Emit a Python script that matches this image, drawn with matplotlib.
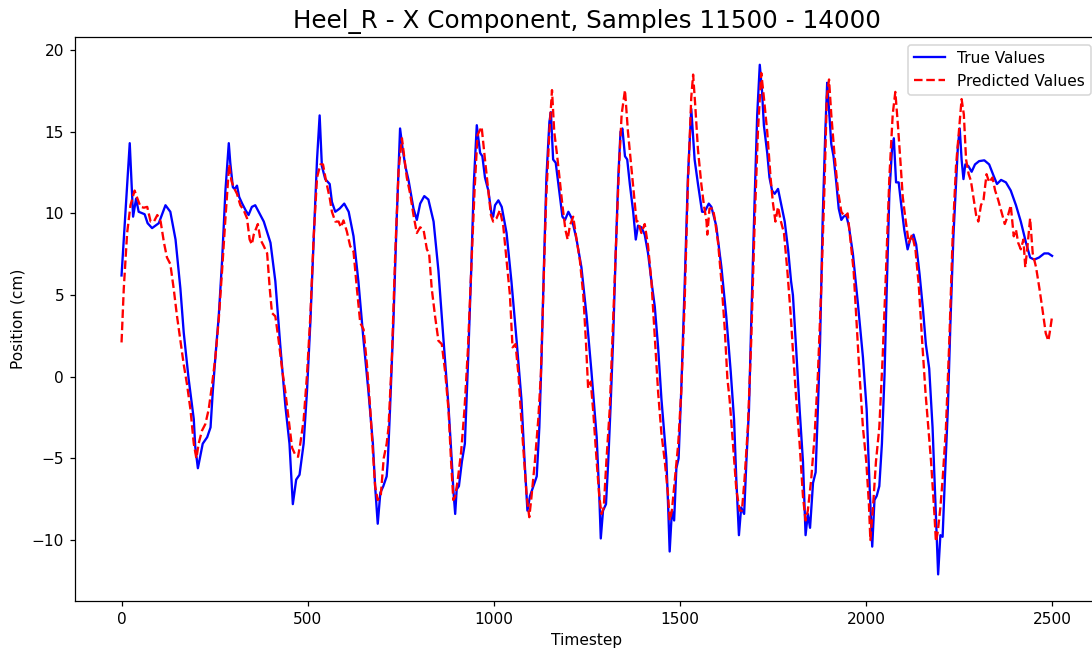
import matplotlib
matplotlib.use("Agg")
import matplotlib.pyplot as plt
import numpy as np

# ---- data (timestep, value) ----
true_t = [0, 22, 31, 39, 46, 62, 70, 82, 100, 118, 131, 145, 158, 167, 180, 194, 198, 205, 218, 230,
          239, 245, 252, 261, 270, 279, 288, 292, 299, 304, 310, 316, 324, 333, 341, 350, 359, 382, 400, 413,
          426, 440, 451, 460, 469, 478, 489, 498, 507, 516, 525, 532, 538, 547, 559, 565, 574, 586, 598, 610,
          623, 636, 650, 663, 675, 681, 688, 695, 703, 712, 715, 721, 730, 739, 748, 754, 762, 771, 784, 793,
          802, 813, 824, 838, 851, 864, 878, 887, 891, 896, 900, 906, 914, 922, 931, 939, 946, 954, 963, 969,
          976, 985, 994, 998, 1003, 1012, 1021, 1034, 1047, 1061, 1074, 1082, 1090, 1097, 1106, 1115, 1122, 1128, 1134, 1141,
          1149, 1153, 1159, 1166, 1173, 1179, 1184, 1191, 1200, 1209, 1222, 1235, 1249, 1262, 1276, 1283, 1287, 1293, 1301, 1307,
          1313, 1320, 1327, 1334, 1340, 1345, 1352, 1358, 1365, 1374, 1381, 1387, 1396, 1405, 1414, 1423, 1432, 1441, 1450, 1463,
          1468, 1472, 1478, 1484, 1490, 1496, 1503, 1512, 1521, 1530, 1539, 1548, 1559, 1566, 1577, 1584, 1597, 1611, 1624, 1636,
          1645, 1651, 1658, 1664, 1672, 1678, 1685, 1691, 1700, 1707, 1714, 1720, 1725, 1734, 1740, 1747, 1754, 1763, 1772, 1781,
          1790, 1798, 1803, 1812, 1821, 1830, 1837, 1843, 1849, 1857, 1864, 1870, 1876, 1883, 1890, 1895, 1899, 1906, 1912, 1919,
          1926, 1933, 1939, 1946, 1953, 1964, 1977, 1991, 2001, 2010, 2016, 2022, 2028, 2035, 2042, 2049, 2055, 2062, 2069, 2074,
          2080, 2087, 2093, 2102, 2111, 2118, 2127, 2134, 2143, 2152, 2160, 2169, 2178, 2187, 2193, 2199, 2205, 2211, 2219, 2226,
          2234, 2241, 2246, 2251, 2256, 2261, 2266, 2274, 2283, 2292, 2303, 2317, 2330, 2342, 2351, 2362, 2375, 2388, 2402, 2415,
          2429, 2440, 2451, 2464, 2478, 2489, 2499]
true_v = [6.2, 14.3, 9.8, 10.9, 10.1, 9.95, 9.4, 9.1, 9.4, 10.5, 10.1, 8.4, 5.4, 2.7, -0.1, -2.6, -4.3, -5.6, -4.1, -3.7,
          -3.1, -0.9, 1.2, 3.7, 7.1, 11.4, 14.3, 13.1, 11.6, 11.5, 11.7, 11.0, 10.6, 10.2, 9.9, 10.4, 10.5, 9.5, 8.2, 5.85,
          2.0, -1.8, -4.1, -7.8, -6.3, -6.0, -4.1, -0.9, 3.3, 8.4, 13.3, 16.0, 12.9, 12.1, 11.8, 10.7, 10.1, 10.3, 10.6, 10.1,
          8.6, 5.85, 2.2, -0.9, -4.1, -6.7, -9.0, -7.1, -6.7, -6.1, -5.2, -2.0, 3.3, 9.7, 15.2, 14.1, 12.9, 12.0, 10.3, 9.6,
          10.6, 11.06, 10.85, 9.5, 6.5, 2.45, -1.8, -5.2, -6.9, -8.4, -6.9, -6.7, -5.2, -4.1, 1.2, 6.5, 11.8, 15.4, 13.7, 13.5,
          12.2, 11.4, 9.9, 9.8, 10.5, 10.8, 10.4, 8.8, 5.85, 2.2, -1.4, -5.0, -8.2, -7.3, -6.7, -6.1, -3.1, 1.2, 6.5, 12.2,
          15.6, 16.2, 13.3, 13.1, 11.8, 10.7, 9.8, 9.6, 10.1, 9.7, 8.4, 6.7, 3.7, 0.3, -3.7, -7.3, -9.9, -8.2, -7.8, -5.2,
          -2.0, 2.2, 7.5, 12.2, 15.0, 15.2, 13.5, 13.3, 11.8, 10.1, 8.4, 9.25, 9.15, 8.7, 7.55, 5.85, 4.3, 1.8, -1.4, -5.0,
          -8.0, -10.7, -8.2, -8.8, -5.6, -5.0, -0.9, 5.4, 12.2, 16.4, 13.3, 11.8, 10.1, 10.1, 10.6, 10.4, 9.25, 6.7, 3.7, 0.3,
          -2.65, -6.3, -9.7, -8.0, -8.4, -5.2, -2.0, 3.3, 10.7, 16.0, 19.1, 17.5, 15.4, 13.7, 12.2, 11.4, 11.2, 11.5, 10.5, 9.5,
          7.8, 5.85, 5.0, 1.6, -2.0, -5.2, -9.7, -8.4, -9.25, -6.5, -5.85, -2.0, 2.2, 9.7, 15.0, 18.0, 16.7, 14.25, 13.5, 12.0,
          10.3, 9.6, 9.8, 9.9, 9.25, 7.55, 4.6, 1.2, -2.0, -7.3, -10.4, -7.55, -7.3, -6.7, -4.1, 0.1, 5.4, 11.2, 13.9, 14.6,
          11.9, 11.9, 10.7, 9.0, 7.8, 8.4, 8.7, 8.1, 6.3, 4.2, 2.0, 0.5, -3.1, -8.4, -12.1, -9.7, -9.8, -6.3, -2.0, 3.3,
          8.6, 11.8, 14.1, 15.2, 13.3, 12.1, 13.0, 12.9, 12.55, 13.0, 13.2, 13.25, 13.0, 12.3, 11.8, 12.05, 11.9, 11.4, 10.5, 9.5,
          8.2, 7.3, 7.17, 7.3, 7.55, 7.55, 7.4]

pred_t = [0, 6, 15, 24, 35, 42, 51, 60, 69, 78, 87, 96, 105, 114, 122, 131, 140, 149, 158, 167,
          176, 185, 194, 201, 207, 216, 225, 234, 243, 252, 261, 270, 279, 289, 295, 301, 310, 319, 328, 337,
          344, 350, 355, 366, 373, 382, 391, 398, 404, 413, 422, 431, 440, 449, 458, 467, 474, 480, 489, 498,
          507, 516, 525, 534, 541, 550, 559, 565, 574, 583, 589, 596, 605, 614, 623, 632, 641, 650, 659, 668,
          675, 681, 688, 696, 704, 712, 717, 726, 735, 744, 753, 760, 766, 775, 784, 793, 802, 811, 820, 826,
          833, 842, 851, 860, 869, 878, 885, 891, 896, 903, 912, 921, 930, 939, 948, 956, 967, 976, 985, 992,
          998, 1007, 1016, 1025, 1034, 1043, 1050, 1058, 1066, 1075, 1088, 1095, 1101, 1110, 1119, 1126, 1133, 1140, 1149, 1156,
          1162, 1170, 1177, 1184, 1192, 1198, 1204, 1213, 1222, 1231, 1240, 1247, 1253, 1260, 1267, 1276, 1283, 1289, 1295, 1302,
          1311, 1320, 1329, 1336, 1343, 1352, 1360, 1369, 1377, 1383, 1387, 1396, 1405, 1414, 1423, 1432, 1441, 1450, 1459, 1468,
          1472, 1478, 1486, 1495, 1503, 1512, 1521, 1530, 1535, 1541, 1548, 1557, 1564, 1571, 1573, 1579, 1588, 1593, 1602, 1611,
          1620, 1627, 1633, 1642, 1651, 1660, 1666, 1673, 1682, 1691, 1700, 1709, 1718, 1725, 1734, 1743, 1749, 1756, 1763, 1770,
          1779, 1788, 1797, 1803, 1812, 1821, 1830, 1837, 1843, 1852, 1861, 1870, 1879, 1888, 1894, 1900, 1906, 1915, 1924, 1933,
          1942, 1950, 1959, 1966, 1973, 1982, 1991, 2000, 2007, 2011, 2018, 2026, 2035, 2044, 2053, 2062, 2071, 2078, 2085, 2092,
          2098, 2105, 2114, 2123, 2132, 2141, 2150, 2159, 2168, 2174, 2183, 2187, 2192, 2199, 2205, 2214, 2223, 2232, 2241, 2250,
          2256, 2262, 2268, 2275, 2281, 2288, 2295, 2301, 2308, 2315, 2323, 2330, 2339, 2346, 2354, 2363, 2372, 2381, 2388, 2396,
          2402, 2408, 2415, 2422, 2427, 2433, 2440, 2447, 2456, 2465, 2473, 2482, 2489, 2494, 2499]
pred_v = [2.1, 5.4, 8.8, 10.5, 11.4, 10.95, 10.4, 10.35, 10.4, 9.5, 9.5, 9.9, 9.5, 8.2, 7.3, 6.9, 5.4, 3.7, 2.2, 0.75,
          -0.5, -2.0, -4.1, -5.0, -4.1, -3.3, -2.9, -2.0, -0.5, 1.2, 3.5, 6.5, 9.7, 13.0, 12.0, 11.6, 11.2, 10.5, 10.2, 9.7,
          8.4, 8.1, 8.7, 9.35, 8.4, 8.0, 7.55, 5.4, 3.9, 3.7, 2.2, 0.5, -0.95, -2.65, -4.35, -4.8, -4.9, -4.1, -2.65, 0.1,
          3.7, 8.6, 12.2, 13.0, 13.0, 11.9, 10.95, 10.1, 9.5, 9.5, 9.15, 9.57, 8.9, 8.0, 7.66, 5.4, 3.3, 2.9, 0.75, -2.0,
          -4.6, -6.7, -7.55, -7.33, -5.0, -4.1, -3.1, 1.2, 7.55, 12.65, 14.6, 13.3, 12.2, 11.2, 9.9, 8.8, 9.15, 9.0, 7.8, 7.55,
          5.4, 3.7, 2.2, 2.0, 0.3, -2.0, -5.2, -7.55, -7.33, -6.3, -4.6, -2.0, 1.6, 6.5, 11.4, 14.8, 15.3, 13.3, 11.4, 9.9,
          9.5, 9.7, 10.2, 9.25, 7.1, 5.0, 1.8, 2.0, 0.1, -3.1, -7.3, -8.6, -7.33, -5.2, -2.65, 0.1, 5.4, 10.7, 15.0, 17.55,
          15.0, 13.5, 12.0, 10.5, 9.0, 8.4, 9.25, 9.8, 8.4, 7.1, 5.0, 2.2, -0.7, -0.3, -2.2, -5.2, -7.33, -8.4, -8.0, -5.2,
          -2.0, 3.3, 8.6, 12.87, 16.06, 17.55, 15.0, 12.87, 11.0, 9.5, 9.5, 8.8, 9.35, 8.0, 5.85, 2.5, -0.95, -3.5, -5.2, -7.33,
          -8.8, -8.2, -6.3, -4.1, -0.95, 4.35, 11.8, 17.1, 18.5, 16.5, 13.9, 11.8, 10.5, 9.5, 8.7, 10.3, 10.3, 9.7, 8.2, 5.85,
          2.9, -0.1, -1.4, -4.1, -6.9, -8.2, -8.2, -6.3, -3.1, 2.2, 9.25, 15.0, 18.6, 17.1, 15.0, 12.2, 10.7, 9.5, 10.4, 9.57,
          8.8, 6.5, 3.8, 1.6, -1.4, -4.1, -7.33, -8.8, -8.2, -6.3, -3.7, 0.1, 5.4, 11.8, 17.1, 18.2, 16.06, 13.5, 11.4, 10.1,
          9.8, 10.0, 8.0, 6.5, 3.7, 0.1, -3.1, -5.2, -7.76, -10.0, -8.0, -5.2, -3.1, 1.2, 6.5, 12.2, 16.06, 17.44, 15.4, 13.1,
          11.0, 9.7, 8.2, 8.7, 7.8, 5.6, 2.2, -0.95, -3.5, -5.2, -8.4, -10.1, -9.5, -8.0, -6.3, -3.1, 2.2, 8.6, 12.9, 15.4,
          17.0, 16.06, 13.3, 12.4, 12.0, 10.95, 9.9, 9.5, 10.5, 10.85, 12.4, 11.9, 12.2, 11.4, 10.85, 10.1, 9.35, 9.9, 10.5, 8.6,
          9.0, 8.2, 7.8, 8.4, 6.7, 8.0, 9.7, 7.55, 6.7, 5.4, 4.15, 2.66, 2.2, 2.9, 3.7]

title = "Heel_R - X Component, Samples 11500 - 14000"
x_label = "Timestep"
y_label = "Position (cm)"
series_labels = ["True Values", "Predicted Values"]

DPI = 111
fig = plt.figure(figsize=(1092 / DPI, 654 / DPI), dpi=DPI)
ax = fig.add_axes([75 / 1092, 1 - 601 / 654, (1099 - 75) / 1092, (601 - 37) / 654])

ax.plot(true_t, true_v, color="blue", linewidth=1.5, label=series_labels[0])
ax.plot(pred_t, pred_v, color="red", linestyle="--", linewidth=1.5, label=series_labels[1])

ax.set_xlim(-125, 2625)
ax.set_ylim(-13.73, 20.8)
ax.set_xticks([0, 500, 1000, 1500, 2000, 2500])
ax.set_yticks([-10, -5, 0, 5, 10, 15, 20])
ax.set_title(title, fontsize=16)
ax.set_xlabel(x_label)
ax.set_ylabel(y_label)
ax.legend(loc="upper right")

fig.savefig("out.png", dpi=DPI)
